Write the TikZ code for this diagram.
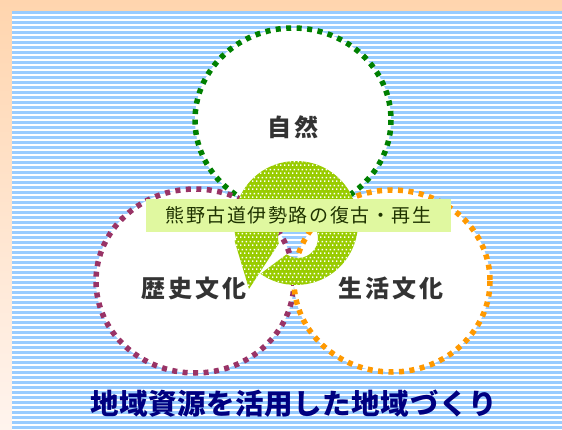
\documentclass[tikz,border=0pt]{standalone}
\usepackage{fontspec}
\usepackage{xcolor}
\usetikzlibrary{patterns}
\newfontfamily\jpfont[LetterSpace=2]{Noto Sans CJK JP}
\newfontfamily\jplabelfont[LetterSpace=12]{Noto Sans CJK JP}
\newfontfamily\jpbannerfont[LetterSpace=8]{Noto Sans CJK JP}
\definecolor{peach}{HTML}{FFD5AE}
\definecolor{peachlight}{HTML}{FFF4EE}
\definecolor{stripeblue}{HTML}{99CCFF}
\definecolor{natgreen}{HTML}{008000}
\definecolor{histpurple}{HTML}{993366}
\definecolor{lifeorange}{HTML}{FF9900}
\definecolor{swirlgreen}{HTML}{99CC00}
\definecolor{bannerfill}{HTML}{E0F8A0}
\definecolor{bannertext}{HTML}{1F3300}
\definecolor{labelgrey}{HTML}{333333}
\definecolor{titlenavy}{HTML}{000080}
\pgfdeclarepatternformonly{swirldots}{\pgfqpoint{0pt}{0pt}}{\pgfqpoint{4pt}{8pt}}{\pgfqpoint{4pt}{8pt}}{%
  \pgfpathrectangle{\pgfqpoint{0pt}{0pt}}{\pgfqpoint{1.8pt}{1.8pt}}%
  \pgfpathrectangle{\pgfqpoint{2pt}{4pt}}{\pgfqpoint{1.8pt}{1.8pt}}%
  \pgfusepath{fill}}

\begin{document}
\begin{tikzpicture}[x=1pt,y=-1pt,
    stripe/.style={fill=stripeblue},
    ring/.style={line width=5.5pt,dash pattern=on 5pt off 5.5pt,fill=white},
    circlabel/.style={text=labelgrey,font=\jplabelfont\bfseries\fontsize{24}{26}\selectfont,inner sep=0pt},
    bannerbox/.style={fill=bannerfill,minimum width=305pt,minimum height=33pt,inner sep=0pt,
      text=bannertext,font=\jpbannerfont\fontsize{19}{21}\selectfont},
    titletext/.style={text=titlenavy,font=\jpfont\bfseries\fontsize{28.5}{30}\selectfont,inner sep=0pt}]
        \useasboundingbox (0,0) rectangle (562,430);
        %background and stripes
        \shade[top color=peach,bottom color=peachlight] (0,0) rectangle (562,430);
        \fill[white] (12,11) rectangle (562,430);
        \foreach \i in {0,...,83}
        \fill[stripe] (12,{11+5*\i}) rectangle (562,{14+5*\i});

        %the three circles
        \draw[ring,draw=natgreen] (293,120) ellipse [x radius=98,y radius=92];
        \draw[ring,draw=histpurple] (195,281) ellipse [x radius=99,y radius=92];
        \draw[ring,draw=lifeorange] (392,281) ellipse [x radius=98,y radius=91];

        %circular arrow in the middle
        \fill[swirlgreen] (260.44,273.79) arc [start angle=125,end angle=-196,radius=62]
          -- (234.5,240.6) -- (249,289) -- (278.77,243.51)
          arc [start angle=164,end angle=485,radius=20] -- cycle;
        \fill[pattern=swirldots,pattern color=white] (260.44,273.79) arc [start angle=125,end angle=-196,radius=62]
          -- (234.5,240.6) -- (249,289) -- (278.77,243.51)
          arc [start angle=164,end angle=485,radius=20] -- cycle;

        \node[bannerbox] (kumano) at (298.5,215.5) {熊野古道伊勢路の復古・再生};

        \node[circlabel] (shizen) at (293,127) {自然};
        \node[circlabel] (rekishi) at (194,288) {歴史文化};
        \node[circlabel] (seikatsu) at (391,288.5) {生活文化};

        \node[titletext] (chiiki) at (293.5,403.5) {地域資源を活用した地域づくり};
\end{tikzpicture}
\end{document}
